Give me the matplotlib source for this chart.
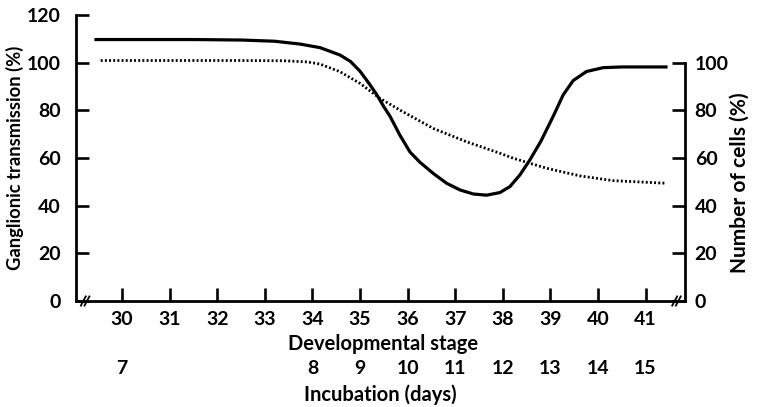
import matplotlib
matplotlib.use("Agg")
import matplotlib.pyplot as plt

plt.rcParams['font.family'] = ['Lato', 'DejaVu Sans']
plt.rcParams['font.weight'] = 'bold'

# Ganglionic transmission (%) vs developmental stage (solid)
trans_stage = [29.45, 30.5, 31.5, 32.5, 33.2, 33.74, 34.16, 34.58, 34.8, 35.0,
               35.2, 35.35, 35.5, 35.63, 35.84, 36.05, 36.26, 36.54, 36.82, 37.1,
               37.38, 37.66, 37.94, 38.15, 38.36, 38.57, 38.8, 39.06, 39.27, 39.48,
               39.76, 40.11, 40.5, 41.43]
trans_value = [109.7, 109.7, 109.7, 109.5, 109.0, 107.8, 106.3, 103.2, 100.5, 96.4,
               91.0, 86.6, 81.5, 77.5, 69.5, 62.5, 58.2, 53.5, 49.4, 46.6,
               44.9, 44.4, 45.5, 48.0, 52.9, 59.2, 67.0, 77.5, 86.5, 92.5,
               96.3, 97.9, 98.2, 98.2]

# Number of cells (%) vs developmental stage (dotted)
cells_stage = [29.55, 31.0, 32.5, 33.4, 33.9, 34.16, 34.58, 35.0, 35.42, 35.84,
               36.54, 37.24, 37.94, 38.22, 38.92, 39.62, 40.32, 41.44]
cells_value = [100.9, 100.9, 100.9, 100.8, 100.3, 99.4, 96.2, 91.3, 85.0, 80.1,
               72.4, 66.8, 62.0, 59.9, 55.7, 52.5, 50.5, 49.4]

stage_ticks = [30, 31, 32, 33, 34, 35, 36, 37, 38, 39, 40, 41]
incub_stage = [30, 34, 35, 36, 37, 38, 39, 40, 41]
incub_days = ['7', '8', '9', '10', '11', '12', '13', '14', '15']
left_ticks = [0, 20, 40, 60, 80, 100, 120]
right_ticks = [0, 20, 40, 60, 80, 100]

TICK_FS = 14
LABEL_FS = 14.5

fig = plt.figure(figsize=(7.57, 4.07), dpi=100)
ax = fig.add_axes([76/757, 1-301/407, 609/757, 286/407])
ax.set_xlim(29.03, 41.83)
ax.set_ylim(0, 120)

ax.plot(trans_stage, trans_value, color='black', lw=2.3, solid_joinstyle='round')
ax.plot(cells_stage, cells_value, color='black', lw=2.0, linestyle=(0, (0.7, 0.8)))

for s in ['top', 'right']:
    ax.spines[s].set_visible(False)
for s in ['left', 'bottom']:
    ax.spines[s].set_linewidth(2.0)

ax.set_xticks(stage_ticks)
ax.set_xticklabels([str(t) for t in stage_ticks])
ax.set_yticks(left_ticks)
ax.tick_params(axis='x', direction='in', length=9.5, width=1.9, pad=7, labelsize=TICK_FS)
ax.tick_params(axis='y', direction='in', length=9.5, width=1.9, pad=11, labelsize=TICK_FS)

ax.set_ylabel('Ganglionic transmission (%)', fontsize=13.2, fontweight='bold')
ax.yaxis.set_label_coords(-0.086, 0.50)
ax.set_xlabel('Developmental stage', fontsize=LABEL_FS, fontweight='bold')
ax.xaxis.set_label_coords(0.504, -0.115)

# right axis
ax2 = ax.twinx()
ax2.set_ylim(0, 120)
for s in ['top', 'left', 'bottom']:
    ax2.spines[s].set_visible(False)
ax2.spines['right'].set_linewidth(2.0)
ax2.spines['right'].set_bounds(0, 100)
ax2.set_yticks(right_ticks)
ax2.tick_params(axis='y', direction='in', length=9.5, width=1.9, pad=7, labelsize=TICK_FS)
ax2.set_ylabel('Number of cells (%)', fontsize=15, fontweight='bold', rotation=90)
ax2.yaxis.set_label_coords(1.074, 0.413)

# incubation days axis
sec = ax.secondary_xaxis(-0.208)
sec.spines['bottom'].set_visible(False)
sec.set_xticks(incub_stage)
sec.set_xticklabels(incub_days)
sec.tick_params(axis='x', length=0, pad=0, labelsize=TICK_FS)
sec.set_xlabel('Incubation (days)', fontsize=LABEL_FS, fontweight='bold', labelpad=5)

# axis break marks
for xa in [0.012, 0.983]:
    for dx in [0.0, 0.006]:
        ax.plot([xa + dx - 0.004, xa + dx + 0.004], [-0.016, 0.016],
                transform=ax.transAxes, color='black', lw=1.3, clip_on=False)

fig.savefig('out.png', dpi=100)
